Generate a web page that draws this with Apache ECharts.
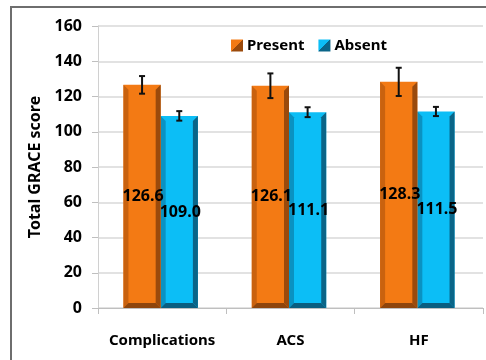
<!DOCTYPE html>
<html>
<head>
<meta charset="utf-8">
<script src="https://cdn.jsdelivr.net/npm/echarts@6/dist/echarts.min.js"></script>
<style>html,body{margin:0;padding:0;background:#fff;}#c{width:486px;height:360px;}</style>
</head>
<body>
<div id="c"></div>
<script>
var categories = ['Complications', 'ACS', 'HF'];
var presentValues = [126.6, 126.1, 128.3];
var presentErrors = [5, 7, 8];
var absentValues = [109.0, 111.1, 111.5];
var absentErrors = [2.7, 2.8, 2.6];
var yTicks = [0, 20, 40, 60, 80, 100, 120, 140, 160];

var FONT = '"Noto Sans"';
var palettes = {
  Present: {main: '#F37A14', left: '#C9620F', right: '#9A4A0C', bottom: '#8E450C'},
  Absent: {main: '#0CBEF6', left: '#0A92C2', right: '#0A6588', bottom: '#0A5E80'}
};

function makeRender(values, errors, side, pal) {
  return function (params, api) {
    var idx = api.value(0);
    var val = api.value(1);
    var err = errors[idx];
    var base = api.coord([idx, 0]);
    var top = api.coord([idx, val]);
    var band = api.size([1, 0])[0];
    var w = band * 0.29;
    var cx = base[0];
    var x0 = side < 0 ? cx - w - 1.5 : cx - 1.5;
    var x1 = x0 + w;
    var y0 = top[1];
    var y1 = base[1];
    var b = 5;
    var mid = (x0 + x1) / 2;
    var eTop = api.coord([idx, val + err])[1];
    var eBot = api.coord([idx, val - err])[1];
    var labelY = api.coord([idx, val / 2])[1];
    return {
      type: 'group',
      children: [
        {type: 'rect', shape: {x: x0, y: y0, width: x1 - x0, height: y1 - y0}, style: {fill: pal.main}},
        {type: 'polygon', shape: {points: [[x0, y0], [x0 + b, y0 + b], [x0 + b, y1 - b], [x0, y1]]}, style: {fill: pal.left}},
        {type: 'polygon', shape: {points: [[x1, y0], [x1 - b, y0 + b], [x1 - b, y1 - b], [x1, y1]]}, style: {fill: pal.right}},
        {type: 'polygon', shape: {points: [[x0, y1], [x0 + b, y1 - b], [x1 - b, y1 - b], [x1, y1]]}, style: {fill: pal.bottom}},
        {type: 'line', shape: {x1: mid, y1: eTop, x2: mid, y2: eBot}, style: {stroke: '#111', lineWidth: 2}},
        {type: 'line', shape: {x1: mid - 3, y1: eTop, x2: mid + 3, y2: eTop}, style: {stroke: '#111', lineWidth: 2}},
        {type: 'line', shape: {x1: mid - 3, y1: eBot, x2: mid + 3, y2: eBot}, style: {stroke: '#111', lineWidth: 2}},
        {type: 'text', z2: 10, style: {x: mid + 1, y: labelY, text: val.toFixed(1), fill: '#000', font: 'bold 16px ' + FONT, textAlign: 'center', textVerticalAlign: 'middle'}}
      ]
    };
  };
}

function legendColor(pal) {
  return {type: 'linear', x: 0, y: 0, x2: 1, y2: 1, colorStops: [
    {offset: 0, color: pal.main}, {offset: 0.5, color: pal.main},
    {offset: 0.5, color: pal.right}, {offset: 1, color: pal.right}]};
}

var chart = echarts.init(document.getElementById('c'), null, {renderer: 'canvas'});
chart.setOption({
  animation: false,
  backgroundColor: '#fff',
  graphic: [{type: 'rect', shape: {x: 11, y: 7, width: 490, height: 370}, style: {fill: 'none', stroke: '#6e6e6e', lineWidth: 2}, z: 100}],
  legend: {
    left: 226, top: 33,
    itemWidth: 12, itemHeight: 12, itemGap: 14,
    icon: 'rect',
    textStyle: {fontFamily: FONT, fontWeight: 'bold', fontSize: 15, color: '#000', padding: [0, 0, 0, -1]},
    data: ['Present', 'Absent']
  },
  grid: {left: 98, top: 26, right: 3, bottom: 52, containLabel: false},
  xAxis: {
    type: 'category', data: categories,
    axisLine: {lineStyle: {color: '#bfbfbf', width: 1}},
    axisTick: {show: true, length: 6, lineStyle: {color: '#bfbfbf'}},
    axisLabel: {interval: 0, margin: 25, fontFamily: FONT, fontWeight: 'bold', fontSize: 15, color: '#000'}
  },
  yAxis: {
    type: 'value', min: 0, max: 160, interval: 20,
    name: 'Total GRACE score', nameLocation: 'middle', nameGap: 53,
    nameTextStyle: {fontFamily: FONT, fontWeight: 'bold', fontSize: 16, color: '#000'},
    axisLine: {show: true, lineStyle: {color: '#d0d0d0'}},
    axisTick: {show: true, length: 6, lineStyle: {color: '#bfbfbf'}},
    axisLabel: {margin: 16, fontFamily: FONT, fontWeight: 'bold', fontSize: 16, color: '#000',
      formatter: function (v) { return yTicks.indexOf(v) >= 0 ? String(v) : ''; }},
    splitLine: {lineStyle: {color: '#d9d9d9', width: 1.5}}
  },
  series: [
    {name: 'Present', type: 'custom', itemStyle: {color: legendColor(palettes.Present)},
      renderItem: makeRender(presentValues, presentErrors, -1, palettes.Present),
      data: presentValues.map(function (v, i) { return [i, v]; }), z: 3},
    {name: 'Absent', type: 'custom', itemStyle: {color: legendColor(palettes.Absent)},
      renderItem: makeRender(absentValues, absentErrors, 1, palettes.Absent),
      data: absentValues.map(function (v, i) { return [i, v]; }), z: 2}
  ]
});
</script>
</body>
</html>
